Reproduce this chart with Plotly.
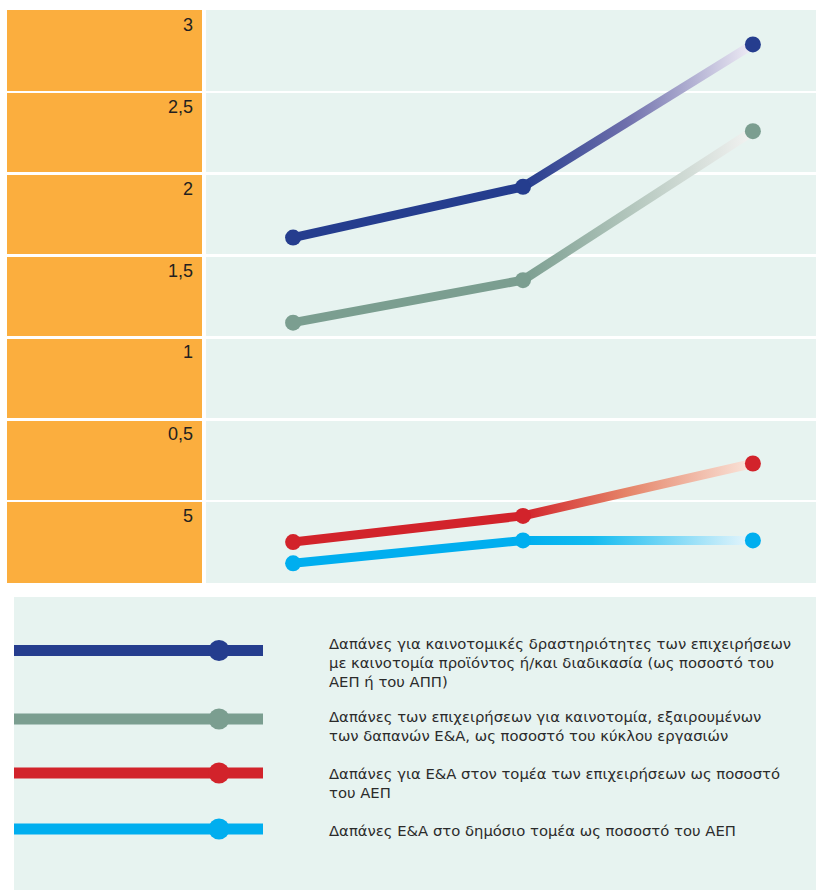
import math
import plotly.graph_objects as go

# ---------------- data ----------------
periods = [0, 1, 2]  # three observation points (unlabelled in the original)

series_names = [
    "Δαπάνες για καινοτομικές δραστηριότητες των επιχειρήσεων<br>με καινοτομία προϊόντος ή/και διαδικασία (ως ποσοστό του<br>ΑΕΠ ή του ΑΠΠ)",
    "Δαπάνες των επιχειρήσεων για καινοτομία, εξαιρουμένων<br>των δαπανών Ε&amp;Α, ως ποσοστό του κύκλου εργασιών",
    "Δαπάνες για Ε&amp;Α στον τομέα των επιχειρήσεων ως ποσοστό<br>του ΑΕΠ",
    "Δαπάνες Ε&amp;Α στο δημόσιο τομέα ως ποσοστό του ΑΕΠ",
]
innovation_spend = [1.61, 1.92, 2.79]
innovation_excl_rd = [1.09, 1.35, 2.26]
business_rd = [-0.25, -0.09, 0.23]
public_rd = [-0.38, -0.24, -0.24]

tick_vals = [3, 2.5, 2, 1.5, 1, 0.5, 0]
tick_text = ["3", "2,5", "2", "1,5", "1", "0,5", "5"]

# ---------------- styling (page pixel coordinates) ----------------
W, H = 816, 890
PLOT_L, PLOT_R, PLOT_T, PLOT_B = 7, 816, 10, 583
X_RANGE = [-1.2445, 2.2745]
Y_RANGE = [-0.5, 3.0]
ORANGE = "#FBAE3E"
MINT = "#E7F3F0"
LINE_W = 9
MARK = 16

colors = ["#253D8E", "#7B9E90", "#D2232B", "#00AEEF"]
fades = [
    [[0, "#253D8E"], [0.45, "#6F70AC"], [1, "#F0EDF6"]],
    [[0, "#7B9E90"], [0.5, "#B7C9C0"], [1, "#F3F3F2"]],
    [[0, "#D2232B"], [0.45, "#E58468"], [1, "#FAE6DC"]],
    [[0, "#00AEEF"], [0.3, "#13BBF0"], [1, "#EAF6FC"]],
]
values = [innovation_spend, innovation_excl_rd, business_rd, public_rd]

sx = (PLOT_R - PLOT_L) / (X_RANGE[1] - X_RANGE[0])
sy = (PLOT_B - PLOT_T) / (Y_RANGE[1] - Y_RANGE[0])

fig = go.Figure()

for vals, col, fade, name in zip(values, colors, fades, series_names):
    # gradient (fading) last segment as a thin filled band
    x1, y1, x2, y2 = periods[1], vals[1], periods[2], vals[2]
    dxp, dyp = (x2 - x1) * sx, (y2 - y1) * sy
    L = math.hypot(dxp, dyp)
    hw = LINE_W / 2
    ox = (-dyp / L * hw) / sx
    oy = (dxp / L * hw) / sy
    fig.add_trace(go.Scatter(
        x=[x1 + ox, x2 + ox, x2 - ox, x1 - ox, x1 + ox],
        y=[y1 + oy, y2 + oy, y2 - oy, y1 - oy, y1 + oy],
        mode="lines", line=dict(width=0, color="rgba(0,0,0,0)"),
        fill="toself",
        fillgradient=dict(type="horizontal", colorscale=fade, start=x1, stop=x2),
        hoverinfo="skip", showlegend=False,
    ))
    # solid first segment
    fig.add_trace(go.Scatter(
        x=periods[:2], y=vals[:2], mode="lines",
        line=dict(width=LINE_W, color=col),
        hoverinfo="skip", showlegend=False,
    ))
    # markers
    fig.add_trace(go.Scatter(
        x=periods, y=vals, mode="markers",
        marker=dict(size=MARK, color=col, line=dict(width=0)),
        name=name.replace("<br>", " ").replace("&amp;", "&"), showlegend=False,
    ))

shapes = []
# orange label panel and white gap
split = (202 - PLOT_L) / (PLOT_R - PLOT_L)
gap_end = (206 - PLOT_L) / (PLOT_R - PLOT_L)
shapes.append(dict(type="rect", xref="x domain", yref="y domain", x0=0, x1=split,
                   y0=0, y1=1, fillcolor=ORANGE, line=dict(width=0), layer="below"))
shapes.append(dict(type="rect", xref="x domain", yref="y domain", x0=split, x1=gap_end,
                   y0=0, y1=1, fillcolor="white", line=dict(width=0), layer="below"))
# legend box
shapes.append(dict(type="rect", xref="paper", yref="paper", x0=14 / W, x1=1,
                   y0=0, y1=1 - 597 / H, fillcolor=MINT, line=dict(width=0), layer="below"))

legend_line_y = [650.5, 719, 773, 829]
legend_text_y = [662, 726, 783, 830]
annotations = []
for col, ly, ty, name in zip(colors, legend_line_y, legend_text_y, series_names):
    yy = 1 - ly / H
    shapes.append(dict(type="line", xref="paper", yref="paper", x0=14 / W, x1=263 / W,
                       y0=yy, y1=yy, line=dict(color=col, width=11)))
    r = 10.5
    shapes.append(dict(type="circle", xref="paper", yref="paper",
                       x0=(219 - r) / W, x1=(219 + r) / W,
                       y0=1 - (ly + r) / H, y1=1 - (ly - r) / H,
                       fillcolor=col, line=dict(width=0)))
    annotations.append(dict(xref="paper", yref="paper", x=327 / W, y=1 - ty / H,
                            xanchor="left", yanchor="middle", align="left",
                            text=name, showarrow=False,
                            font=dict(family="DejaVu Sans", size=14.8, color="#2B2B2B")))

for tv, tt in zip(tick_vals, tick_text):
    annotations.append(dict(xref="paper", yref="y", x=195 / W, y=tv,
                            xanchor="right", yanchor="top", yshift=-3,
                            text=tt, showarrow=False,
                            font=dict(family="Liberation Sans, Arial", size=18, color="#231F20")))

fig.update_layout(
    width=W, height=H,
    margin=dict(l=0, r=0, t=0, b=0),
    paper_bgcolor="white", plot_bgcolor=MINT,
    shapes=shapes, annotations=annotations,
    showlegend=False,
    xaxis=dict(domain=[PLOT_L / W, PLOT_R / W], range=X_RANGE, showgrid=False,
               zeroline=False, showticklabels=False, ticks="", fixedrange=True),
    yaxis=dict(domain=[1 - PLOT_B / H, 1 - PLOT_T / H], range=Y_RANGE,
               tickvals=tick_vals, showticklabels=False, ticks="",
               showgrid=True, gridcolor="white", gridwidth=2.5,
               zeroline=False, fixedrange=True),
)

fig.write_html(
    "out.html",
    config={"displayModeBar": False, "staticPlot": True},
    post_script="document.body.style.margin='0';document.documentElement.style.overflow='hidden';",
)
